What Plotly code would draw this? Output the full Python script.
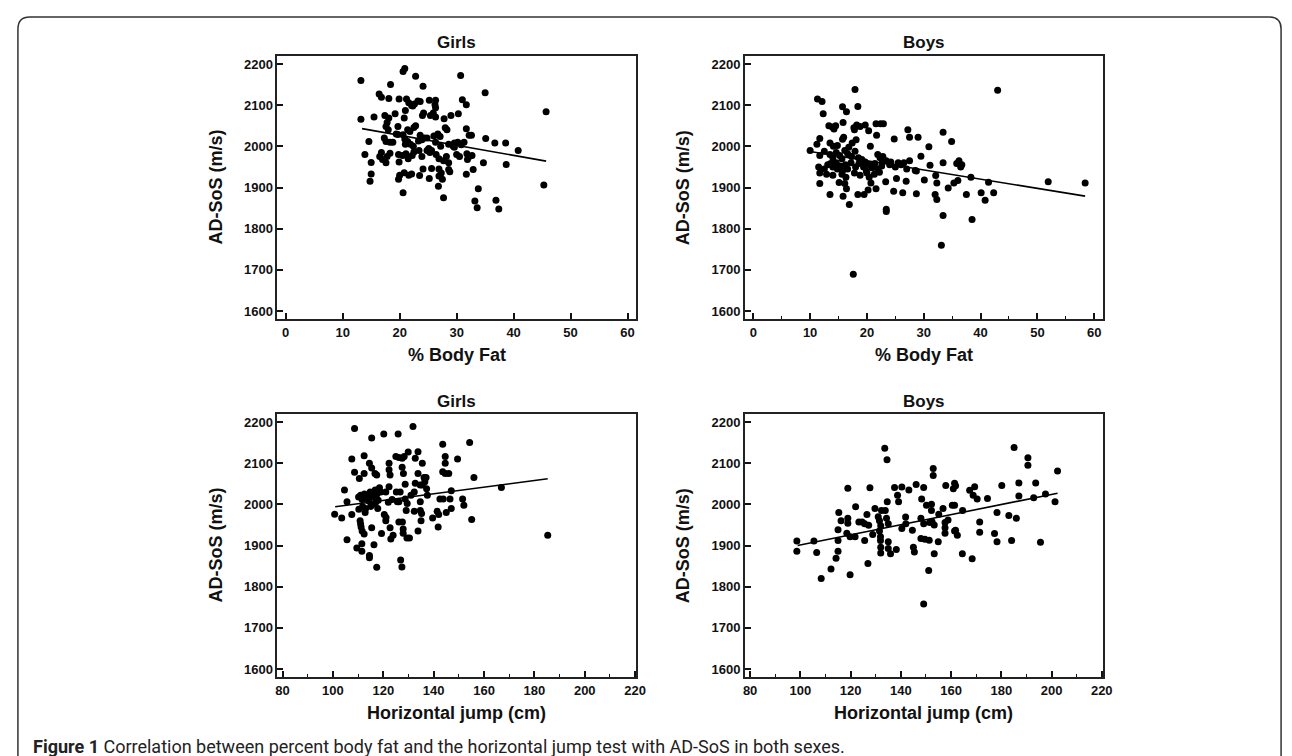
import plotly.graph_objects as go

W, H = 1292, 756

# ---------------- data ----------------
girls_bf_x = [13.2,20.6,20.9,22.8,30.7,24.1,18.4,35.0,16.4,16.8,18.1,19.9,21.2,21.6,22.1,22.6,23.2,23.6,25.2,26.3,26.2,26.3,31.0,31.7,22.3,
              13.2,15.5,17.4,18.1,19.2,20.8,21.0,22.8,24.0,24.2,25.4,25.9,26.3,27.8,29.0,30.3,45.7,
              17.8,17.6,18.0,19.7,19.7,21.4,21.8,22.5,23.6,24.8,26.0,26.7,27.1,28.0,28.3,31.7,32.2,32.6,
              14.6,17.3,17.6,18.3,18.8,19.4,20.6,20.9,21.0,21.4,21.9,22.4,23.3,23.9,24.3,25.1,25.6,26.3,27.2,28.6,29.4,29.6,30.2,30.8,31.3,35.1,36.7,38.6,40.8,
              13.9,15.0,16.8,16.5,17.0,17.6,17.8,18.3,19.8,20.5,21.1,21.5,22.5,22.2,23.4,23.9,24.8,25.3,26.4,26.9,27.7,28.2,28.6,29.6,30.0,30.5,31.8,32.2,32.7,31.9,34.7,38.7,19.9,
              15.0,14.8,19.8,20.0,20.8,21.6,22.1,23.5,25.2,25.6,26.9,27.3,26.9,27.5,28.6,28.8,26.8,31.7,32.9,33.8,20.6,27.7,33.2,33.6,36.9,37.4,45.3,24.1]
girls_bf_y = [2160,2182,2189,2170,2172,2146,2150,2130,2127,2119,2116,2115,2115,2106,2099,2103,2110,2109,2112,2112,2101,2094,2113,2101,2098,
              2066,2071,2075,2069,2079,2069,2087,2050,2075,2081,2075,2081,2071,2067,2075,2079,2084,
              2058,2048,2040,2048,2029,2040,2036,2046,2027,2020,2025,2030,2024,2045,2040,2043,2027,2027,
              2012,2020,2012,2010,2010,2030,2028,2018,2005,2012,2005,2000,2013,2016,2020,1995,1990,2010,2000,2005,2000,2008,2010,2004,2010,2019,2008,2008,1990,
              1980,1961,1985,1975,1968,1960,1975,1983,1980,1978,1982,1970,1986,1978,1990,1975,1990,1985,1980,1970,1965,1975,1960,1998,1980,1975,1982,1975,1978,1968,1960,1956,1962,
              1933,1915,1920,1930,1936,1930,1933,1929,1922,1946,1945,1935,1928,1920,1944,1938,1903,1932,1944,1897,1887,1875,1867,1851,1869,1848,1906,1945]
girls_bf_fit_x = [13.4, 45.7]
girls_bf_fit_y = [2043, 1964]

boys_bf_x = [17.9,43.0,11.3,12.1,12.3,15.7,16.4,18.4,15.8,
             13.3,13.9,14.5,14.2,17.7,18.2,18.8,19.7,17.8,20.3,21.6,22.4,22.9,21.7,15.9,15.7,18.1,11.7,
             11.2,13.5,14.1,14.8,17.4,16.8,20.6,24.8,27.2,27.5,29.0,30.9,33.4,34.9,
             10.0,11.7,12.5,13.5,14.0,14.6,15.2,15.6,16.1,16.6,17.3,17.9,18.5,19.1,21.9,22.3,22.8,23.4,22.7,24.2,25.5,26.5,27.5,29.5,
             11.5,12.5,13.1,13.6,14.0,14.6,14.8,15.3,15.7,16.2,16.6,17.2,18.0,18.6,19.4,19.9,20.4,20.9,21.4,21.9,22.6,19.7,24.0,25.0,26.0,27.0,28.5,31.1,33.4,35.8,36.2,36.5,36.7,
             11.7,12.9,14.0,15.6,16.3,17.8,18.8,20.0,20.4,21.3,22.2,23.3,25.2,26.9,28.7,30.1,32.1,32.3,35.3,36.0,38.3,41.4,51.9,58.4,11.7,15.1,16.1,
             21.6,20.7,20.2,19.5,18.4,16.9,15.8,16.4,13.5,24.7,26.3,28.7,32.0,32.3,34.3,37.5,40.1,40.8,42.3,23.4,23.4,33.4,38.5,33.1,17.6]
boys_bf_y = [2138,2136,2115,2109,2079,2096,2084,2097,2058,
             2050,2047,2050,2042,2045,2052,2048,2052,2040,2038,2055,2055,2055,2027,2022,2017,2016,2019,
             2005,2008,2000,2002,2008,1998,2000,2018,2040,2022,2022,1999,2034,2012,
             1990,1978,1988,1980,1972,1985,1978,1970,1990,1982,1975,1988,1972,1968,1980,1972,1975,1965,1962,1962,1960,1960,1965,1976,
             1950,1945,1955,1958,1950,1960,1945,1952,1940,1955,1945,1960,1950,1958,1950,1940,1955,1948,1958,1945,1952,1962,1955,1950,1955,1945,1941,1954,1960,1958,1965,1950,1955,
             1935,1932,1930,1932,1925,1935,1930,1935,1925,1932,1937,1914,1922,1915,1940,1918,1929,1911,1911,1917,1925,1913,1914,1911,1910,1912,1910,
             1897,1911,1894,1883,1883,1859,1879,1897,1883,1891,1887,1885,1883,1871,1899,1883,1887,1869,1887,1847,1842,1832,1822,1760,1689]
boys_bf_fit_x = [10.3, 58.4]
boys_bf_fit_y = [1987, 1879]

girls_hj_x = [100.7,103.5,104.6,105.6,105.6,107.5,107.5,108.6,108.6,110.5,109.5,111.5,111.5,112.4,112.4,
              110.2,111.0,111.6,112.5,113.2,111.8,113.0,112.8,110.3,110.8,111.2,111.6,112.4,111.0,
              114.5,114.5,116.3,117.4,115.4,114.5,115.4,116.7,117.4,115.4,
              114.0,114.8,115.6,116.2,116.8,117.5,117.0,116.0,115.0,114.2,117.8,118.5,119.0,118.0,
              120.2,119.3,120.4,121.0,121.1,122.3,122.3,122.7,122.3,121.0,122.7,123.0,123.9,122.0,123.5,
              125.9,125.0,126.2,127.5,128.3,125.2,126.7,125.6,126.2,126.2,127.6,127.9,127.9,129.1,129.5,128.7,128.7,126.9,127.4,129.4,130.4,127.5,128.0,
              131.8,129.9,132.7,133.8,133.8,132.7,132.3,132.3,133.8,134.7,134.7,135.2,135.0,131.0,
              135.5,134.7,135.5,136.2,136.5,137.0,137.2,137.5,139.6,141.4,142.0,141.8,
              143.6,143.6,144.6,144.6,144.6,142.5,143.8,145.0,146.0,146.5,147.0,147.0,149.5,151.5,152.0,154.3,155.1,156.0,166.9,185.3]
girls_hj_y = [1976,1967,2035,2006,1914,1975,2110,2184,2078,2063,1894,1904,1886,2118,2075,
              2018,2022,2012,2025,2015,1995,1990,1980,1988,1960,1945,1935,1928,1952,
              1876,1870,1902,1847,2161,2100,2088,2075,2071,1943,
              2020,2030,2018,2022,2035,2025,2005,2000,1995,2008,1990,2040,2030,2010,
              2171,1929,1975,1960,1968,2100,2084,2071,2043,2030,1943,1916,1925,2005,2012,
              2171,2116,2114,2112,2116,2030,2030,2006,2006,1957,1957,1940,1930,1985,2002,2013,2049,1865,1848,1918,1918,2090,2075,
              2189,2127,2112,2128,2075,2051,2030,1983,1935,2006,1985,1978,1960,2022,
              2100,2047,2047,2065,2055,2065,2038,2022,1967,1983,1975,1945,
              2146,2079,2075,2116,2100,2013,2013,1980,2075,2013,2033,1990,2110,2013,1998,2150,1963,2065,2041,1925]
girls_hj_fit_x = [100.9, 185.3]
girls_hj_fit_y = [1994, 2062]

boys_hj_x = [98.6,98.6,105.4,106.5,108.3,112.2,114.2,115.0,115.0,115.0,115.3,116.2,118.5,118.9,118.9,118.9,119.8,119.8,121.8,122.0,123.3,124.6,125.6,125.6,126.5,127.2,126.9,127.7,128.8,129.7,
             131.5,131.5,131.9,131.9,132.3,131.0,132.0,132.0,132.0,133.6,134.5,134.6,133.8,134.3,135.0,135.0,135.0,135.9,137.5,140.4,138.2,138.7,139.1,140.4,141.9,142.0,143.2,144.6,145.0,145.4,
             146.1,148.3,149.1,148.0,149.1,148.0,149.6,151.3,149.1,150.2,152.2,152.2,151.1,152.9,152.9,153.3,151.5,152.4,153.3,155.1,154.9,156.8,157.9,157.6,157.6,157.6,158.8,160.5,161.4,161.4,
             162.5,160.9,161.4,161.8,161.8,164.5,164.6,167.4,168.4,168.8,170.4,169.4,171.4,171.4,174.5,177.3,178.3,178.3,180.2,183.0,184.1,185.1,186.0,187.0,187.0,190.6,190.6,192.9,193.7,195.6,197.6,201.4,202.4]
boys_hj_y = [1911,1886,1911,1883,1820,1843,1869,1886,1912,1938,1980,1960,1930,2039,1966,1954,1921,1829,1921,1994,1957,1957,1953,1912,1975,1949,1856,2040,1927,1990,
             1960,1935,1921,1912,1985,1970,1948,1896,1882,2136,2108,2006,1985,1966,1953,1909,1893,1880,2041,2042,1890,2022,2006,1941,1969,1953,2035,1937,1896,1884,
             2048,2013,2041,1966,1953,1917,1915,1913,1758,1998,2000,1985,1839,2087,2070,1880,1956,1958,1950,1976,1909,1990,2046,1956,1943,1930,1962,1998,1998,1935,
             1925,2038,2051,2045,1937,1880,1985,2034,1868,2022,2013,2043,1957,1932,2014,1929,1980,1909,2046,1973,1912,2138,1966,2052,2020,2113,2095,2016,2052,1908,2025,2006,2081]
boys_hj_fit_x = [98.9, 202.4]
boys_hj_fit_y = [1900, 2027]

panel_titles = ["Girls", "Boys", "Girls", "Boys"]
x_titles = ["% Body Fat", "% Body Fat", "Horizontal jump (cm)", "Horizontal jump (cm)"]
y_title = "AD-SoS (m/s)"
y_ticks = [1600, 1700, 1800, 1900, 2000, 2100, 2200]
bf_ticks = [0, 10, 20, 30, 40, 50, 60]
hj_ticks = [80, 100, 120, 140, 160, 180, 200, 220]
caption_bold = "Figure 1"
caption_text = " Correlation between percent body fat and the horizontal jump test with AD-SoS in both sexes."

# ---------------- layout geometry (pixels) ----------------
boxes = [  # left, top, right, bottom
    (270, 48, 632, 311),
    (742, 48, 1103, 311),
    (270, 406, 632, 669),
    (742, 406, 1103, 669),
]

def xdom(l, r):
    return [l / W, r / W]

def ydom(t, b):
    return [1 - b / H, 1 - t / H]

FONT = "Liberation Sans, Arial, sans-serif"
INK = "#111111"

fig = go.Figure()

panels = [
    (girls_bf_x, girls_bf_y, girls_bf_fit_x, girls_bf_fit_y),
    (boys_bf_x, boys_bf_y, boys_bf_fit_x, boys_bf_fit_y),
    (girls_hj_x, girls_hj_y, girls_hj_fit_x, girls_hj_fit_y),
    (boys_hj_x, boys_hj_y, boys_hj_fit_x, boys_hj_fit_y),
]

for i, (px, py, fx, fy) in enumerate(panels):
    ax = "" if i == 0 else str(i + 1)
    fig.add_trace(go.Scatter(x=px, y=py, mode="markers", xaxis="x" + ax, yaxis="y" + ax,
                             marker=dict(color="#000000", size=7, line=dict(width=0)),
                             showlegend=False, hoverinfo="x+y"))
    fig.add_trace(go.Scatter(x=fx, y=fy, mode="lines", xaxis="x" + ax, yaxis="y" + ax,
                             line=dict(color="#000000", width=1.6),
                             showlegend=False, hoverinfo="skip"))

layout = dict(
    width=W, height=H, autosize=False,
    margin=dict(l=0, r=0, t=0, b=0),
    paper_bgcolor="white", plot_bgcolor="white",
    font=dict(family=FONT, color=INK),
)

tick_font = dict(family=FONT, size=13, color=INK, weight="bold")

for i, (l, t, r, b) in enumerate(boxes):
    ax = "" if i == 0 else str(i + 1)
    is_bf = i < 2
    xaxis = dict(
        domain=xdom(l, r),
        anchor="y" + ax,
        range=[-1.44, 61.5] if is_bf else [78.0, 220.4],
        tickmode="array", tickvals=bf_ticks if is_bf else hj_ticks,
        ticks="inside", ticklen=6, tickwidth=1.5, tickcolor=INK,
        showline=True, linecolor="#222222", linewidth=2, mirror=True,
        showgrid=False, zeroline=False, tickfont=tick_font,
    )
    if i == 1:
        xaxis["minor"] = dict(tickmode="array", tickvals=[5, 15, 25, 35, 45, 55],
                              ticks="inside", ticklen=3, tickwidth=1.2, tickcolor=INK)
    if i >= 2:
        xaxis["minor"] = dict(tickmode="array", tickvals=[90, 110, 130, 150, 170, 190, 210],
                              ticks="inside", ticklen=3, tickwidth=1.2, tickcolor=INK)
    yaxis = dict(
        domain=ydom(t, b),
        anchor="x" + ax,
        range=[1580.6, 2219.4],
        tickmode="array", tickvals=y_ticks,
        ticks="inside", ticklen=6, tickwidth=1.5, tickcolor=INK,
        showline=True, linecolor="#222222", linewidth=2, mirror=True,
        showgrid=False, zeroline=False, tickfont=tick_font,
    )
    layout["xaxis" + ax] = xaxis
    layout["yaxis" + ax] = yaxis

fig.update_layout(**layout)

ann = []
for i, (l, t, r, b) in enumerate(boxes):
    cx = (l + r) / 2
    ann.append(dict(text="<b>%s</b>" % panel_titles[i], x=cx / W, y=1 - (t - 13) / H,
                    xref="paper", yref="paper", xanchor="center", yanchor="middle",
                    showarrow=False, font=dict(family=FONT, size=17, color=INK)))
    ann.append(dict(text="<b>%s</b>" % x_titles[i], x=cx / W, y=1 - (b + 36) / H,
                    xref="paper", yref="paper", xanchor="center", yanchor="middle",
                    showarrow=False, font=dict(family=FONT, size=18, color=INK)))
    ann.append(dict(text="<b>%s</b>" % y_title, x=(l - 63) / W, y=1 - ((t + b) / 2) / H,
                    xref="paper", yref="paper", xanchor="center", yanchor="middle", textangle=-90,
                    showarrow=False, font=dict(family=FONT, size=18, color=INK)))

ann.append(dict(text="<b>%s</b>%s" % (caption_bold, caption_text), x=21 / W, y=1 - 738 / H,
                xref="paper", yref="paper", xanchor="left", yanchor="middle",
                showarrow=False,
                font=dict(family="Roboto, sans-serif", size=18, color="#222222")))
fig.update_layout(annotations=ann)

# outer rounded frame (extends past bottom edge)
def P(x, y):
    return "%.5f,%.5f" % (x / W, 1 - y / H)

path = ("M " + P(8, 800) + " L " + P(8, 21) + " Q " + P(8, 9) + " " + P(20, 9) +
        " L " + P(1271, 9) + " Q " + P(1283, 9) + " " + P(1283, 21) + " L " + P(1283, 800))
fig.update_layout(shapes=[dict(type="path", path=path, xref="paper", yref="paper",
                               line=dict(color="#333333", width=1.5))])

fig.write_html("out.html")
